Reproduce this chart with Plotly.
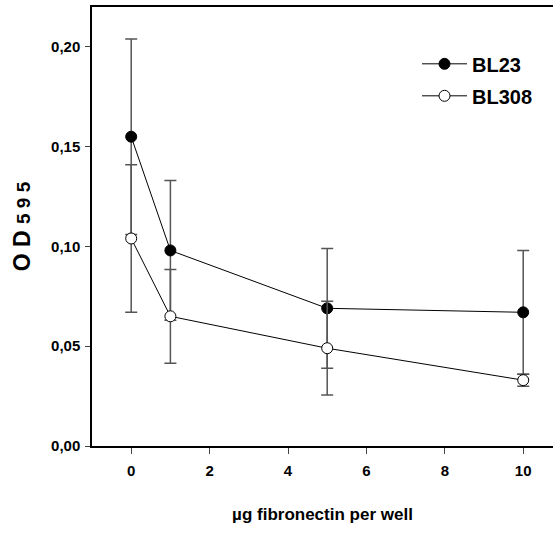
import plotly.graph_objects as go

doses = [0, 1, 5, 10]
bl23 = [0.155, 0.098, 0.069, 0.067]
bl23_err = [0.049, 0.035, 0.030, 0.031]
bl308 = [0.104, 0.065, 0.049, 0.033]
bl308_err = [0.037, 0.0235, 0.0235, 0.003]
xticks = [0, 2, 4, 6, 8, 10]
yticks = [0.00, 0.05, 0.10, 0.15, 0.20]

FONT = "Liberation Sans Narrow, Arial Narrow, Liberation Sans, Arial, sans-serif"

fig = go.Figure()
fig.add_trace(go.Scatter(
    x=doses, y=bl23, name="BL23", mode="lines+markers", legendgroup="a",
    line=dict(color="black", width=1),
    marker=dict(symbol="circle", size=11, color="black", line=dict(color="black", width=1)),
    error_y=dict(type="data", array=bl23_err, visible=True, color="#555555", thickness=1.5, width=6),
))
fig.add_trace(go.Scatter(
    x=doses, y=bl308, name="BL308", mode="lines+markers", legendgroup="b",
    line=dict(color="black", width=1),
    marker=dict(symbol="circle", size=11, color="white", line=dict(color="black", width=1)),
    error_y=dict(type="data", array=bl308_err, visible=True, color="#555555", thickness=1.5, width=6),
))

fig.update_layout(
    width=553, height=534,
    margin=dict(l=92, r=0, t=7, b=88),
    paper_bgcolor="white", plot_bgcolor="white",
    separators=",.",
    font=dict(family=FONT, color="black"),
    showlegend=True,
    legend=dict(
        x=0.705, y=0.915, xanchor="left", yanchor="top",
        font=dict(family=FONT, size=20, color="black", weight="bold"),
        bgcolor="rgba(0,0,0,0)", tracegroupgap=3, itemwidth=45,
    ),
    xaxis=dict(
        range=[-1, 10.76], tickvals=xticks, ticks="outside", ticklen=6,
        tickcolor="#444", showline=True, linecolor="black", linewidth=1.5,
        mirror=True, showgrid=False, zeroline=False, ticklabelstandoff=4,
        tickfont=dict(family=FONT, size=15, weight="bold"),
        title=dict(text="µg fibronectin per well", font=dict(family=FONT, size=17, weight="bold"), standoff=30),
    ),
    yaxis=dict(
        range=[0, 0.22], tickvals=yticks, tickformat=".2f", ticks="outside", ticklen=5,
        tickcolor="#444", showline=True, linecolor="black", linewidth=1.5,
        showgrid=False, zeroline=False, ticklabelstandoff=2,
        tickfont=dict(family=FONT, size=15, weight="bold"),
        title=dict(text="O D <span style='font-size:19px'>5 9 5</span>", font=dict(family=FONT, size=23, weight="bold"), standoff=14),
    ),
)

fig.write_html("out.html")
